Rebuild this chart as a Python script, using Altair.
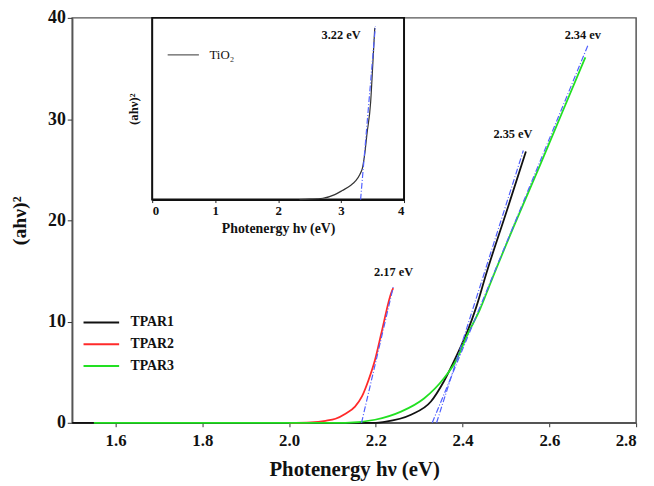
import altair as alt
import pandas as pd

FONT = "Liberation Serif"

# --- main series ---
tpar1_x = [1.50, 2.00, 2.20, 2.22, 2.281, 2.327, 2.357, 2.387, 2.41, 2.432, 2.455, 2.50, 2.546]
tpar1_y = [0.0, 0.0, 0.0, 0.1, 0.8, 2.1, 4.1, 6.7, 8.9, 11.5, 14.8, 20.7, 26.8]

tpar2_x = [2.00, 2.05, 2.084, 2.107, 2.13, 2.152, 2.168, 2.183, 2.198, 2.213, 2.236, 2.24]
tpar2_y = [0.0, 0.05, 0.2, 0.4, 0.9, 1.6, 2.6, 4.2, 6.2, 8.9, 12.9, 13.3]

tpar3_x = [1.55, 2.00, 2.13, 2.198, 2.258, 2.311, 2.357, 2.387, 2.41, 2.44, 2.466, 2.52, 2.58, 2.63, 2.683]
tpar3_y = [0.0, 0.0, 0.0, 0.3, 1.1, 2.4, 4.4, 6.3, 8.6, 11.2, 14.0, 19.6, 25.6, 30.7, 36.1]

series_names = ["TPAR1", "TPAR2", "TPAR3"]
series_colors = ["#111111", "#ff2a2a", "#22e022"]

# linear fits (blue dash-dot)
fit_names = ["f1", "f2", "f3"]
fit_x = [[2.34, 2.54], [2.167, 2.24], [2.33, 2.689]]
fit_y = [[0.0, 26.9], [0.0, 13.4], [0.0, 37.3]]

# annotations
ann_text = ["2.17 eV", "2.35 eV", "2.34 ev"]
ann_x = [2.241, 2.516, 2.677]
ann_y = [14.9, 28.5, 38.3]

# --- inset (TiO2) ---
tio2_x = [2.34, 2.5, 2.71, 2.9, 3.02, 3.15, 3.23, 3.30, 3.34, 3.38, 3.41, 3.47, 3.50, 3.535]
tio2_y = [0.0, 0.1, 0.3, 1.1, 2.0, 3.1, 4.1, 5.6, 7.0, 10.5, 14.3, 21.5, 28.8, 37.8]
tio2_fit_x = [3.31, 3.545]
tio2_fit_y = [0.0, 38.2]
inset_ann_text = ["3.22 eV"]
inset_ann_x = [3.0]
inset_ann_y = [36.3]

# ---------- build tables ----------
rows = []
for name, xs, ys in zip(series_names, [tpar1_x, tpar2_x, tpar3_x], [tpar1_y, tpar2_y, tpar3_y]):
    for i, (a, b) in enumerate(zip(xs, ys)):
        rows.append({"series": name, "x": a, "y": b, "o": i})
main_df = pd.DataFrame(rows)

frows = []
for name, xs, ys in zip(fit_names, fit_x, fit_y):
    for i, (a, b) in enumerate(zip(xs, ys)):
        frows.append({"fit": name, "x": a, "y": b, "o": i})
fit_df = pd.DataFrame(frows)

ann_df = pd.DataFrame({"x": ann_x, "y": ann_y, "t": ann_text})

tio2_df = pd.DataFrame({"x": tio2_x, "y": tio2_y, "o": list(range(len(tio2_x))), "series": "TiO₂"})
tio2_fit_df = pd.DataFrame({"x": tio2_fit_x, "y": tio2_fit_y, "o": [0, 1]})
inset_ann_df = pd.DataFrame({"x": inset_ann_x, "y": inset_ann_y, "t": inset_ann_text})
frame_df = pd.DataFrame({"x0": [0], "x1": [4], "y0": [0], "y1": [40]})

W, H = 571, 410
IN_X0, IN_X1, IN_YB = 81, 336, 184

# ---------- main ----------
mx = alt.Scale(domain=[1.5, 2.8], nice=False, zero=False)
my = alt.Scale(domain=[0, 40], nice=False)

x_axis = alt.Axis(values=[1.6, 1.8, 2.0, 2.2, 2.4, 2.6, 2.8], format=".1f", title="Photenergy hν (eV)",
                  labelFont=FONT, labelFontWeight="bold", labelFontSize=17, labelColor="#111",
                  titleFont=FONT, titleFontWeight="bold", titleFontSize=21, titleColor="#111",
                  titlePadding=10, tickSize=4, tickColor="#333", domainColor="#555", domainWidth=1.5,
                  grid=False, labelPadding=6)
y_axis = alt.Axis(values=[0, 10, 20, 30, 40], format="d", title="(ahν)²",
                  labelFont=FONT, labelFontWeight="bold", labelFontSize=18, labelColor="#111",
                  titleFont=FONT, titleFontWeight="bold", titleFontSize=20, titleColor="#111",
                  titlePadding=18, tickSize=5, tickColor="#333", domainColor="#555", domainWidth=1.5,
                  grid=False)

lines = alt.Chart(main_df).mark_line(strokeWidth=1.8, interpolate="monotone").encode(
    x=alt.X("x:Q", scale=mx, axis=x_axis),
    y=alt.Y("y:Q", scale=my, axis=y_axis),
    color=alt.Color("series:N", scale=alt.Scale(domain=series_names, range=series_colors),
                    legend=alt.Legend(title=None, orient="none", legendX=10, legendY=299,
                                      symbolType="stroke", symbolSize=1300, symbolStrokeWidth=2,
                                      labelFont=FONT, labelFontWeight="bold", labelFontSize=14,
                                      labelColor="#111", rowPadding=3, clipHeight=19,
                                      labelOffset=10)),
    order="o:Q",
)

fits = alt.Chart(fit_df).mark_line(strokeWidth=1.2, strokeDash=[6, 2, 1, 2], color="#5060ff").encode(
    x=alt.X("x:Q", scale=mx), y=alt.Y("y:Q", scale=my), detail="fit:N", order="o:Q")

anns = alt.Chart(ann_df).mark_text(font=FONT, fontWeight="bold", fontSize=12.5, color="#111").encode(
    x=alt.X("x:Q", scale=mx), y=alt.Y("y:Q", scale=my), text="t:N")

main = alt.layer(lines, fits, anns)

# ---------- inset ----------
ix = alt.Scale(domain=[0, 4], range=[IN_X0, IN_X1], nice=False, zero=False)
iy = alt.Scale(domain=[0, 40], range=[IN_YB, 0], nice=False)

ix_axis = alt.Axis(orient="bottom", offset=-(H - IN_YB), values=[0, 1, 2, 3, 4], format="d",
                   title="Photenergy hν (eV)", labelFont=FONT, labelFontWeight="bold", labelFontSize=13,
                   labelColor="#111", titleFont=FONT, titleFontWeight="bold", titleFontSize=14,
                   titleColor="#111", titlePadding=4, tickSize=3, tickColor="#222",
                   domainColor="#111", domainWidth=2, grid=False, labelPadding=2)
iy_axis = alt.Axis(orient="left", offset=-IN_X0, labels=False, ticks=False, title="(ahν)²",
                   titleFont=FONT, titleFontWeight="bold", titleFontSize=13, titleColor="#111",
                   titlePadding=12, domainColor="#111", domainWidth=2, grid=False)

frame = alt.Chart(frame_df).mark_rect(fill="white", stroke="#111", strokeWidth=2).encode(
    x=alt.X("x0:Q", scale=ix, axis=ix_axis), x2="x1:Q",
    y=alt.Y("y0:Q", scale=iy, axis=iy_axis), y2="y1:Q")

tio2 = alt.Chart(tio2_df).mark_line(strokeWidth=1.2, interpolate="monotone").encode(
    x=alt.X("x:Q", scale=ix), y=alt.Y("y:Q", scale=iy), order="o:Q",
    color=alt.Color("series:N", scale=alt.Scale(domain=["TiO₂"], range=["#333333"]),
                    legend=alt.Legend(title=None, orient="none", legendX=96, legendY=21,
                                      symbolType="stroke", symbolSize=1000, symbolStrokeWidth=1,
                                      symbolStrokeColor="#999",
                                      labelFont=FONT, labelFontSize=13, labelColor="#111",
                                      labelOffset=10)))

tio2_fit = alt.Chart(tio2_fit_df).mark_line(strokeWidth=1.2, strokeDash=[6, 2, 1, 2], color="#5060ff").encode(
    x=alt.X("x:Q", scale=ix), y=alt.Y("y:Q", scale=iy), order="o:Q")

inset_anns = alt.Chart(inset_ann_df).mark_text(font=FONT, fontWeight="bold", fontSize=12.5, color="#111").encode(
    x=alt.X("x:Q", scale=ix), y=alt.Y("y:Q", scale=iy), text="t:N")

inset = alt.layer(frame, tio2, tio2_fit, inset_anns)

chart = alt.layer(main, inset).resolve_scale(
    x="independent", y="independent", color="independent"
).properties(
    width=W, height=H,
    autosize=alt.AutoSizeParams(type="none"),
    padding={"left": 65, "top": 7, "right": 10, "bottom": 60},
    background="white",
).configure_view(
    stroke="#555", strokeWidth=1.5
).configure_axis(
    labelFont=FONT, titleFont=FONT
).configure_legend(
    labelFont=FONT
).configure_text(font=FONT)

chart.save("out.html", embed_options={"renderer": "svg", "actions": False})
